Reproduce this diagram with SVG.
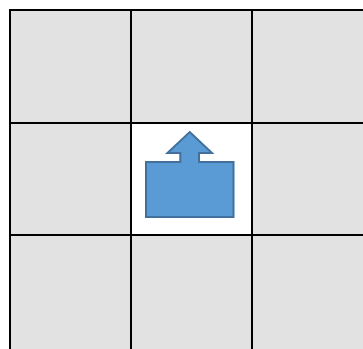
<svg xmlns="http://www.w3.org/2000/svg" width="363" height="349" viewBox="0 0 363 349">
<style>
.cell{fill:#e2e2e2;}
.grid{stroke:#000;stroke-width:2;fill:none;}
.shape{fill:#5b9bd5;stroke:#41719c;stroke-width:2;stroke-linejoin:miter;}
</style>
<rect width="363" height="349" fill="#fff"/>
<g id="cells">
<rect class="cell" x="10" y="10" width="363" height="340"/>
<rect x="131" y="123" width="121" height="112" fill="#fff"/>
</g>
<g id="grid">
<path class="grid" d="M10,349 V10 H363 M131,10 V349 M252,10 V349 M10,123 H363 M10,235 H363"/>
</g>
<g id="arrow">
<path class="shape" d="M189.7,132 L212,153 L199,153 L199,162 L233.5,162 L233.5,217 L146,217 L146,162 L180.3,162 L180.3,153 L167.4,153 Z"/>
</g>
</svg>
